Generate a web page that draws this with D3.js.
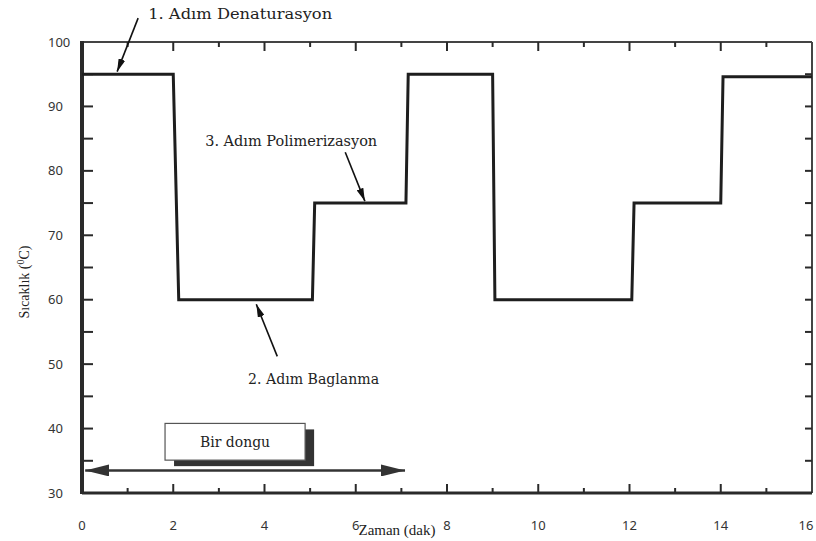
<!DOCTYPE html>
<html><head><meta charset="utf-8">
<script src="https://cdn.jsdelivr.net/npm/d3@7"></script>
<style>body{margin:0;background:#fff}svg{display:block}</style>
</head><body>
<svg id="c" width="816" height="541"></svg>
<script>
// ---- data ----
const profileTime = [0, 2.0, 2.12, 5.05, 5.1, 7.1, 7.15, 9.0, 9.05, 12.05, 12.1, 14.0, 14.05, 16];
const profileTemp = [95, 95, 60, 60, 75, 75, 95, 95, 60, 60, 75, 75, 94.6, 94.6];
const xTickLabels = [0, 2, 4, 6, 8, 10, 12, 14, 16];
const yTickLabels = [30, 40, 50, 60, 70, 80, 90, 100];
const xTitle = "Zaman (dak)";
const yTitleMain = "Sıcaklık (";
const yTitleSup = "0";
const yTitleEnd = "C)";
const annoLabels = ["1. Adım Denaturasyon", "3. Adım Polimerizasyon", "2. Adım Baglanma"];
const annoTextPos = [[1.45, 103.6], [2.7, 83.9], [3.64, 46.9]];
const annoArrowFrom = [[1.23, 103.7], [5.77, 82.9], [4.28, 51.2]];
const annoArrowTo = [[0.77, 95.4], [6.2, 75.3], [3.82, 59.3]];
const annoWidths = [184, 172, 131];
const cycleLabel = "Bir dongu";
const cycleBox = [1.82, 40.8, 4.89, 35.1];
const cycleArrow = [0.07, 7.08, 33.5];

// ---- setup ----
const W = 816;
const svg = d3.select("#c");
const x = d3.scaleLinear().domain([0, 16]).range([82, 812]);
const y = d3.scaleLinear().domain([30, 100]).range([493, 42]);
const ink = "#2a2a2a";

const defs = svg.append("defs");
defs.append("marker").attr("id", "ah").attr("viewBox", "0 0 13 7")
  .attr("refX", 13).attr("refY", 3.5).attr("markerWidth", 13).attr("markerHeight", 7)
  .attr("markerUnits", "userSpaceOnUse").attr("orient", "auto")
  .append("path").attr("d", "M0,0L13,3.5L0,7Z").attr("fill", "#111");
defs.append("marker").attr("id", "big").attr("viewBox", "0 0 24 12")
  .attr("refX", 24).attr("refY", 6).attr("markerWidth", 24).attr("markerHeight", 12)
  .attr("markerUnits", "userSpaceOnUse").attr("orient", "auto-start-reverse")
  .append("path").attr("d", "M0,0L24,6L0,12Z").attr("fill", "#333");

// frame
const [x0, x1] = x.range(), [yb, yt] = y.range();
svg.append("line").attr("x1", x0).attr("x2", x1).attr("y1", yt).attr("y2", yt).attr("stroke", "#444").attr("stroke-width", 2);
svg.append("line").attr("x1", x1).attr("x2", x1).attr("y1", yt).attr("y2", yb).attr("stroke", "#444").attr("stroke-width", 2);
svg.append("line").attr("x1", x0).attr("x2", x1).attr("y1", yb).attr("y2", yb).attr("stroke", ink).attr("stroke-width", 3);
svg.append("line").attr("x1", x0).attr("x2", x0).attr("y1", yt - 1).attr("y2", yb + 1).attr("stroke", ink).attr("stroke-width", 4);

// ticks
const xt = d3.range(1, 16);
svg.append("g").selectAll("line").data(xt).join("line")
  .attr("x1", d => x(d)).attr("x2", d => x(d)).attr("y1", yb)
  .attr("y2", d => yb - (d % 2 === 0 ? 9 : 5)).attr("stroke", ink).attr("stroke-width", 2);
svg.append("g").selectAll("line").data(xt).join("line")
  .attr("x1", d => x(d)).attr("x2", d => x(d)).attr("y1", yt)
  .attr("y2", d => yt + (d % 2 === 0 ? 9 : 5)).attr("stroke", ink).attr("stroke-width", 2);
const ytk = d3.range(35, 100, 5);
svg.append("g").selectAll("line").data(ytk).join("line")
  .attr("x1", x0).attr("x2", x0 + 11).attr("y1", d => y(d)).attr("y2", d => y(d))
  .attr("stroke", ink).attr("stroke-width", 2);
svg.append("g").selectAll("line").data(ytk).join("line")
  .attr("x1", x1).attr("x2", x1 - 7).attr("y1", d => y(d)).attr("y2", d => y(d))
  .attr("stroke", ink).attr("stroke-width", 2);

// tick labels
svg.append("g").selectAll("text").data(xTickLabels).join("text")
  .attr("x", d => Math.min(x(d), W - 10)).attr("y", 530).attr("text-anchor", "middle")
  .attr("font-family", "Noto Sans, sans-serif").attr("font-size", 13).attr("fill", "#333")
  .text(d => d);
svg.append("g").selectAll("text").data(yTickLabels).join("text")
  .attr("x", 48).attr("y", d => y(d)).attr("dy", "0.35em").attr("text-anchor", "start")
  .attr("font-family", "Noto Sans, sans-serif").attr("font-size", 13).attr("fill", "#333")
  .text(d => d);

// axis titles
svg.append("text").attr("x", 397).attr("y", 535).attr("text-anchor", "middle")
  .attr("font-family", "Liberation Serif, serif").attr("font-size", 15).attr("fill", "#222")
  .text(xTitle);
const yt2 = svg.append("text").attr("transform", "translate(29,282) rotate(-90)")
  .attr("text-anchor", "middle").attr("font-family", "Liberation Serif, serif")
  .attr("font-size", 14).attr("fill", "#222");
yt2.append("tspan").text(yTitleMain);
yt2.append("tspan").attr("dy", -5).attr("font-size", 10).text(yTitleSup);
yt2.append("tspan").attr("dy", 5).text(yTitleEnd);

// profile line
const pts = profileTime.map((t, i) => [t, profileTemp[i]]);
svg.append("path").datum(pts)
  .attr("d", d3.line().x(d => x(d[0])).y(d => y(d[1])))
  .attr("fill", "none").attr("stroke", "#1e1e1e").attr("stroke-width", 3)
  .attr("stroke-linejoin", "miter");

// annotations
annoLabels.forEach((lab, i) => {
  svg.append("text").attr("x", x(annoTextPos[i][0])).attr("y", y(annoTextPos[i][1]))
    .attr("font-family", "DejaVu Serif, serif").attr("font-size", 14).attr("fill", "#222")
    .attr("textLength", annoWidths[i]).attr("lengthAdjust", "spacingAndGlyphs")
    .text(lab);
  svg.append("line")
    .attr("x1", x(annoArrowFrom[i][0])).attr("y1", y(annoArrowFrom[i][1]))
    .attr("x2", x(annoArrowTo[i][0])).attr("y2", y(annoArrowTo[i][1]))
    .attr("stroke", "#111").attr("stroke-width", 1.6).attr("marker-end", "url(#ah)");
});

// cycle box
const bx = x(cycleBox[0]), by = y(cycleBox[1]), bw = x(cycleBox[2]) - bx, bh = y(cycleBox[3]) - by;
svg.append("rect").attr("x", bx + 9).attr("y", by + 6).attr("width", bw).attr("height", bh).attr("fill", "#333");
svg.append("rect").attr("x", bx).attr("y", by).attr("width", bw).attr("height", bh)
  .attr("fill", "#fff").attr("stroke", "#555").attr("stroke-width", 1.2);
svg.append("text").attr("x", bx + bw / 2).attr("y", by + bh / 2).attr("dy", "0.35em")
  .attr("text-anchor", "middle").attr("font-family", "DejaVu Serif, serif").attr("font-size", 14)
  .attr("fill", "#222").attr("textLength", 70).attr("lengthAdjust", "spacingAndGlyphs").text(cycleLabel);
svg.append("line").attr("x1", x(cycleArrow[0])).attr("x2", x(cycleArrow[1]))
  .attr("y1", y(cycleArrow[2])).attr("y2", y(cycleArrow[2]))
  .attr("stroke", "#333").attr("stroke-width", 2.5)
  .attr("marker-start", "url(#big)").attr("marker-end", "url(#big)");
</script>
</body></html>
